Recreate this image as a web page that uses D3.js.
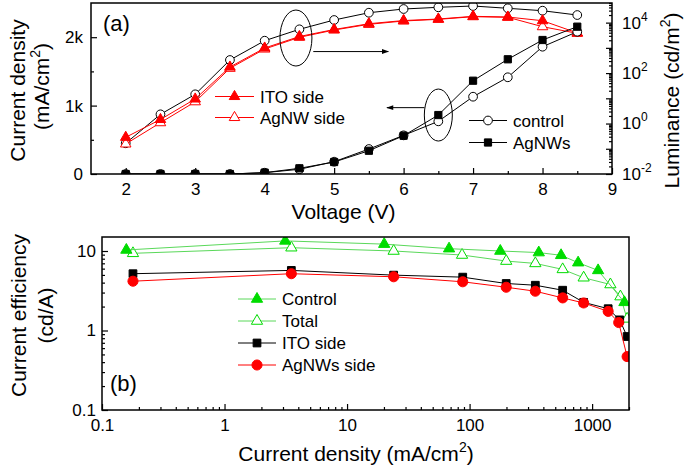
<!DOCTYPE html>
<html>
<head>
<meta charset="utf-8">
<script src="https://cdn.jsdelivr.net/npm/d3@7"></script>
<style>
  body { margin: 0; background: #fff; }
  svg { font-family: "Liberation Sans", Arial, sans-serif; }
</style>
</head>
<body>
<div id="chart"></div>
<script>
"use strict";

// ---- panel (a): J-V-L ----
const voltage = [2, 2.5, 3, 3.5, 4, 4.5, 5, 5.5, 6, 6.5, 7, 7.5, 8, 8.5];
const jControl = [0, 0, 0, 0, 19, 69, 180, 365, 565, 770, 1130, 1414, 1861, 2080];
const jAgNWs = [0, 0, 0, 0, 20, 83, 175, 340, 560, 862, 1364, 1677, 1959, 2154];
const lumControl = [0.165, 2.32, 14.4, 330, 1920, 5430, 12700, 24700, 34700, 40500, 45600, 37000, 29700, 20000];
const lumITO = [0.285, 1.45, 9.4, 174, 986, 2820, 5340, 9060, 12100, 13900, 17800, 16700, 11900, 3900];
const lumAgNW = [0.155, 1.08, 7.3, 155, 900, 2620, 5100, 8570, 11600, 13500, 17200, 16300, 6900, 3770];

// ---- panel (b): CE vs J ----
const ctrlJ = [0.158, 3.13, 20.1, 68, 178, 367, 558, 769, 1119, 1835];
const ctrlCE = [10.3, 13.4, 12.2, 10.7, 10.0, 9.55, 8.83, 7.13, 5.70, 2.26];
const totalJ = [0.179, 3.51, 24.0, 86.8, 199, 344, 575, 853, 1410, 1702, 1930];
const totalCE = [9.35, 11.0, 10.0, 8.90, 7.47, 6.98, 5.87, 4.61, 3.79, 2.67, 1.40];
const itoJ = [0.179, 3.51, 24.0, 87.9, 199, 344, 575, 853, 1352, 1680, 1930];
const itoCE = [5.18, 5.70, 4.97, 4.69, 3.90, 3.71, 3.21, 2.26, 1.88, 1.36, 0.84];
const agJ = [0.179, 3.51, 24.0, 87.9, 199, 344, 575, 853, 1352, 1648, 1930];
const agCE = [4.17, 5.18, 4.74, 4.10, 3.50, 3.12, 2.57, 2.22, 1.74, 1.26, 0.47];

const RED = "#ff0000", GREEN = "#00dc00", GREEN_LINE = "#5ad85a", BLACK = "#000";

const svg = d3.select("#chart").append("svg").attr("width", 685).attr("height", 470);
const defs = svg.append("defs");

function clip(id, b) {
  defs.append("clipPath").attr("id", id).append("rect")
    .attr("x", b.left).attr("y", b.top)
    .attr("width", b.right - b.left).attr("height", b.bottom - b.top);
}

function sym(type, size) {
  return d3.symbol().type(type).size(size)();
}

function drawSeries(g, xs, ys, xScale, yScale, o) {
  const pts = xs.map((v, i) => [xScale(v), yScale(ys[i])]);
  g.append("path").attr("d", d3.line()(pts))
    .attr("fill", "none").attr("stroke", o.line).attr("stroke-width", 1);
  g.selectAll(null).data(pts).enter().append("path")
    .attr("transform", d => `translate(${d[0]},${d[1]})`)
    .attr("d", sym(o.type, o.size))
    .attr("fill", o.fill).attr("stroke", o.stroke).attr("stroke-width", 1);
}

function logMinor(lo, hi) {
  const out = [];
  for (let e = Math.floor(Math.log10(lo)); e <= Math.ceil(Math.log10(hi)); e++) {
    for (let k = 2; k <= 9; k++) {
      const v = k * Math.pow(10, e);
      if (v >= lo && v <= hi) out.push(v);
    }
  }
  return out;
}

function styleAxis(g) {
  g.selectAll(".domain").remove();
  g.selectAll("line").attr("stroke", BLACK).attr("stroke-width", 1.2);
  g.selectAll("text").attr("font-size", 17).attr("fill", BLACK)
    .attr("font-family", "Liberation Sans, Arial, sans-serif");
}

function supLabels(g, fn) {
  g.selectAll(".tick text").each(function (d) {
    const t = d3.select(this);
    const p = fn(d);
    t.text(p[0]);
    if (p[1] != null) {
      t.append("tspan").attr("dy", -8).attr("font-size", 12).text(p[1]);
    }
  });
}

function legendRow(g, x0, x1, y, label, o) {
  g.append("line").attr("x1", x0).attr("x2", x1).attr("y1", y).attr("y2", y)
    .attr("stroke", o.line).attr("stroke-width", 1);
  g.append("path").attr("transform", `translate(${(x0 + x1) / 2},${y})`)
    .attr("d", sym(o.type, o.size))
    .attr("fill", o.fill).attr("stroke", o.stroke).attr("stroke-width", 1);
  g.append("text").attr("x", x1 + 6).attr("y", y + 6).attr("font-size", 17).text(label);
}

// ================= panel (a) =================
const A = { left: 91, right: 612, top: 3, bottom: 174 };
const xV = d3.scaleLinear().domain([1.5, 9]).range([A.left, A.right]);
const yJ = d3.scaleLinear().domain([0, 2500]).range([A.bottom, A.top]);
const yL = d3.scaleLog().domain([0.01, 6e4]).range([A.bottom, A.top]);
clip("clipA", A);

const gA = svg.append("g");

// axes
const axB = gA.append("g").attr("transform", `translate(0,${A.bottom})`)
  .call(d3.axisBottom(xV).tickValues([2, 3, 4, 5, 6, 7, 8, 9]).tickFormat(d3.format("d"))
    .tickSizeInner(-6).tickSizeOuter(0).tickPadding(9));
styleAxis(axB);
const axBm = gA.append("g").attr("transform", `translate(0,${A.bottom})`)
  .call(d3.axisBottom(xV).tickValues([2.5, 3.5, 4.5, 5.5, 6.5, 7.5, 8.5]).tickFormat("")
    .tickSizeInner(-3).tickSizeOuter(0));
styleAxis(axBm);

const axLft = gA.append("g").attr("transform", `translate(${A.left},0)`)
  .call(d3.axisLeft(yJ).tickValues([0, 1000, 2000]).tickFormat(d => d === 0 ? "0" : d / 1000 + "k")
    .tickSizeInner(-6).tickSizeOuter(0).tickPadding(8));
styleAxis(axLft);
const axLftm = gA.append("g").attr("transform", `translate(${A.left},0)`)
  .call(d3.axisLeft(yJ).tickValues([500, 1500]).tickFormat("").tickSizeInner(-3).tickSizeOuter(0));
styleAxis(axLftm);

const decadesA = [0.01, 0.1, 1, 10, 100, 1000, 10000];
const axR = gA.append("g").attr("transform", `translate(${A.right},0)`)
  .call(d3.axisRight(yL).tickValues(decadesA).tickSizeInner(-6).tickSizeOuter(0).tickPadding(10));
styleAxis(axR);
supLabels(axR, d => {
  const e = Math.round(Math.log10(d));
  return e % 2 === 0 ? ["10", String(e)] : ["", null];
});
const axRm = gA.append("g").attr("transform", `translate(${A.right},0)`)
  .call(d3.axisRight(yL).tickValues(logMinor(0.01, 6e4)).tickFormat("").tickSizeInner(-3).tickSizeOuter(0));
styleAxis(axRm);

// data
const dA = gA.append("g").attr("clip-path", "url(#clipA)");
const circ = { type: d3.symbolCircle, size: 60 };
drawSeries(dA, voltage, lumControl, xV, yL, { ...circ, line: BLACK, fill: "#fff", stroke: BLACK });
drawSeries(dA, voltage, lumAgNW, xV, yL, { type: d3.symbolTriangle, size: 48, line: RED, fill: "#fff", stroke: RED });
drawSeries(dA, voltage, lumITO, xV, yL, { type: d3.symbolTriangle, size: 48, line: RED, fill: RED, stroke: RED });
drawSeries(dA, voltage, jControl, xV, yJ, { ...circ, line: BLACK, fill: "#fff", stroke: BLACK });
drawSeries(dA, voltage, jAgNWs, xV, yJ, { type: d3.symbolSquare, size: 52, line: BLACK, fill: BLACK, stroke: BLACK });

// annotations: ellipses with arrows
defs.append("marker").attr("id", "arr").attr("viewBox", "0 0 10 10")
  .attr("refX", 9).attr("refY", 5).attr("markerWidth", 13).attr("markerHeight", 7)
  .attr("markerUnits", "userSpaceOnUse").attr("orient", "auto")
  .append("path").attr("d", "M0,1.5 L10,5 L0,8.5 Z").attr("fill", BLACK);
const note = gA.append("g").attr("fill", "none").attr("stroke", BLACK).attr("stroke-width", 1);
note.append("ellipse").attr("cx", xV(4.45)).attr("cy", yJ(1988)).attr("rx", 16).attr("ry", 28);
note.append("line").attr("x1", xV(4.7)).attr("x2", xV(5.78)).attr("y1", yJ(1790)).attr("y2", yJ(1790))
  .attr("marker-end", "url(#arr)");
note.append("ellipse").attr("cx", xV(6.5)).attr("cy", yJ(862)).attr("rx", 14).attr("ry", 26);
note.append("line").attr("x1", xV(6.3)).attr("x2", xV(5.76)).attr("y1", yJ(970)).attr("y2", yJ(970))
  .attr("marker-end", "url(#arr)");

// legends
const lgA = gA.append("g");
legendRow(lgA, 215, 254, 96.5, "ITO side", { type: d3.symbolTriangle, size: 48, line: RED, fill: RED, stroke: RED });
legendRow(lgA, 215, 254, 117.5, "AgNW side", { type: d3.symbolTriangle, size: 48, line: RED, fill: "#fff", stroke: RED });
legendRow(lgA, 469, 507, 120.5, "control", { ...circ, line: BLACK, fill: "#fff", stroke: BLACK });
legendRow(lgA, 469, 507, 142.5, "AgNWs", { type: d3.symbolSquare, size: 52, line: BLACK, fill: BLACK, stroke: BLACK });

gA.append("rect").attr("x", A.left).attr("y", A.top)
  .attr("width", A.right - A.left).attr("height", A.bottom - A.top)
  .attr("fill", "none").attr("stroke", BLACK).attr("stroke-width", 1.5);

gA.append("text").attr("x", 103).attr("y", 31).attr("font-size", 22).text("(a)");

// titles
gA.append("text").attr("x", (A.left + A.right) / 2 - 8).attr("y", 219)
  .attr("text-anchor", "middle").attr("font-size", 21).text("Voltage (V)");
gA.append("text").attr("transform", `translate(25,${(A.top + A.bottom) / 2 + 2}) rotate(-90)`)
  .attr("text-anchor", "middle").attr("font-size", 21).text("Current density");
const tA = gA.append("text").attr("transform", `translate(49,${(A.top + A.bottom) / 2 - 2}) rotate(-90)`)
  .attr("text-anchor", "middle").attr("font-size", 21);
tA.append("tspan").text("(mA/cm");
tA.append("tspan").attr("dy", -9).attr("font-size", 14).text("2");
tA.append("tspan").attr("dy", 9).text(")");
const tR = gA.append("text").attr("transform", `translate(679,${(A.top + A.bottom) / 2 + 12}) rotate(-90)`)
  .attr("text-anchor", "middle").attr("font-size", 21);
tR.append("tspan").text("Luminance (cd/m");
tR.append("tspan").attr("dy", -9).attr("font-size", 14).text("2");
tR.append("tspan").attr("dy", 9).text(")");

// ================= panel (b) =================
const B = { left: 102, right: 629, top: 237, bottom: 410 };
const xJ = d3.scaleLog().domain([0.1, 2000]).range([B.left, B.right]);
const yCE = d3.scaleLog().domain([0.1, 15]).range([B.bottom, B.top]);
clip("clipB", B);

const gB = svg.append("g");
const bx = gB.append("g").attr("transform", `translate(0,${B.bottom})`)
  .call(d3.axisBottom(xJ).tickValues([0.1, 1, 10, 100, 1000]).tickFormat(d => String(d))
    .tickSizeInner(-6).tickSizeOuter(0).tickPadding(9));
styleAxis(bx);
const bxm = gB.append("g").attr("transform", `translate(0,${B.bottom})`)
  .call(d3.axisBottom(xJ).tickValues(logMinor(0.1, 2000)).tickFormat("").tickSizeInner(-3).tickSizeOuter(0));
styleAxis(bxm);
const by = gB.append("g").attr("transform", `translate(${B.left},0)`)
  .call(d3.axisLeft(yCE).tickValues([0.1, 1, 10]).tickFormat(d => String(d))
    .tickSizeInner(-6).tickSizeOuter(0).tickPadding(6));
styleAxis(by);
const bym = gB.append("g").attr("transform", `translate(${B.left},0)`)
  .call(d3.axisLeft(yCE).tickValues(logMinor(0.1, 15)).tickFormat("").tickSizeInner(-3).tickSizeOuter(0));
styleAxis(bym);

const dB = gB.append("g").attr("clip-path", "url(#clipB)");
const sCtrl = { type: d3.symbolTriangle, size: 55, line: GREEN_LINE, fill: GREEN, stroke: GREEN };
const sTot = { type: d3.symbolTriangle, size: 55, line: GREEN_LINE, fill: "#fff", stroke: GREEN };
const sIto = { type: d3.symbolSquare, size: 60, line: BLACK, fill: BLACK, stroke: BLACK };
const sAg = { type: d3.symbolCircle, size: 80, line: RED, fill: RED, stroke: RED };
drawSeries(dB, totalJ, totalCE, xJ, yCE, sTot);
drawSeries(dB, ctrlJ, ctrlCE, xJ, yCE, sCtrl);
drawSeries(dB, itoJ, itoCE, xJ, yCE, sIto);
drawSeries(dB, agJ, agCE, xJ, yCE, sAg);

const lgB = gB.append("g");
legendRow(lgB, 238, 276, 299, "Control", sCtrl);
legendRow(lgB, 238, 276, 321, "Total", sTot);
legendRow(lgB, 238, 276, 343, "ITO side", sIto);
legendRow(lgB, 238, 276, 365, "AgNWs side", sAg);

gB.append("rect").attr("x", B.left).attr("y", B.top)
  .attr("width", B.right - B.left).attr("height", B.bottom - B.top)
  .attr("fill", "none").attr("stroke", BLACK).attr("stroke-width", 1.5);

gB.append("text").attr("x", 110).attr("y", 391).attr("font-size", 22).text("(b)");

const tB = gB.append("text").attr("x", 356).attr("y", 461).attr("text-anchor", "middle").attr("font-size", 21);
tB.append("tspan").text("Current density (mA/cm");
tB.append("tspan").attr("dy", -9).attr("font-size", 14).text("2");
tB.append("tspan").attr("dy", 9).text(")");
gB.append("text").attr("transform", `translate(26,${(B.top + B.bottom) / 2 - 8}) rotate(-90)`)
  .attr("text-anchor", "middle").attr("font-size", 21).text("Current efficiency");
gB.append("text").attr("transform", `translate(53,${(B.top + B.bottom) / 2 - 8}) rotate(-90)`)
  .attr("text-anchor", "middle").attr("font-size", 21).text("(cd/A)");
</script>
</body>
</html>
